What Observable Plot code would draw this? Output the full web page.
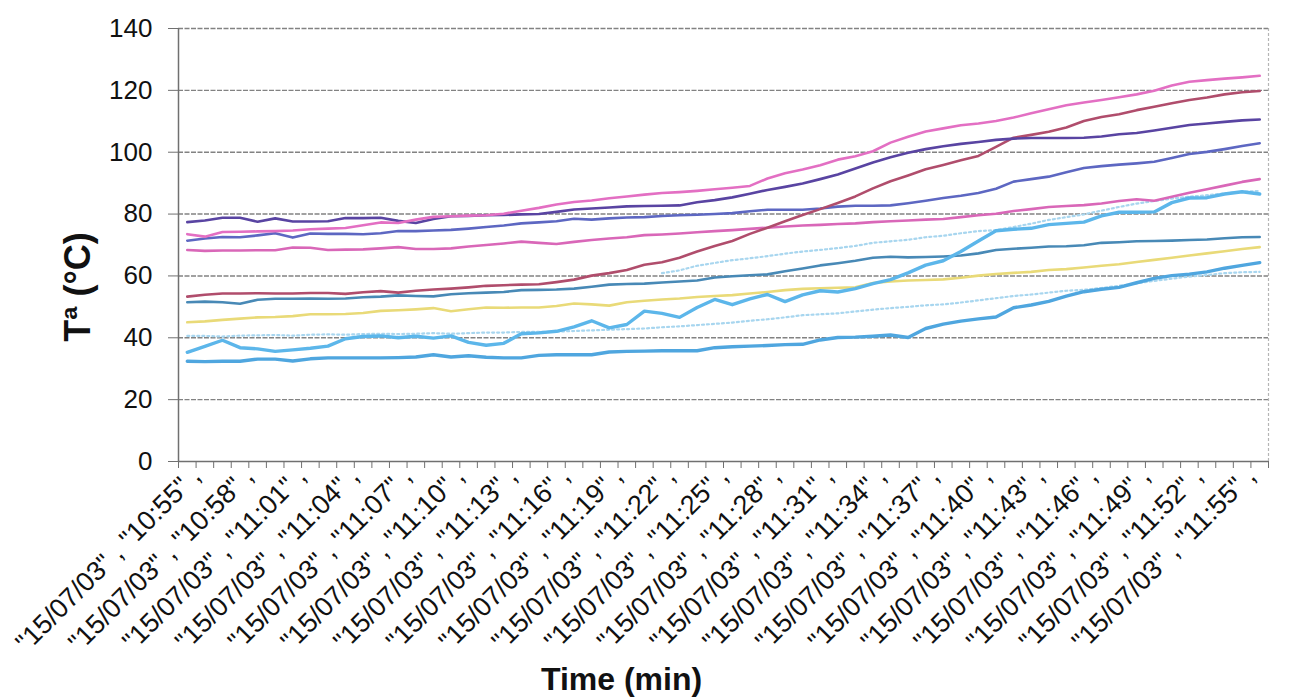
<!DOCTYPE html>
<html><head><meta charset="utf-8">
<script src="https://cdn.jsdelivr.net/npm/d3@7"></script>
<script src="https://cdn.jsdelivr.net/npm/@observablehq/plot@0.6"></script>
<style>
html,body{margin:0;padding:0;background:#fff}
#chart svg{display:block}
</style></head><body><div id="chart"></div>
<script>
// ---- data ----
const dateLabel = "15/07/03";
const times = ["10:55","10:56","10:57","10:58","10:59","11:00","11:01","11:02","11:03","11:04",
"11:05","11:06","11:07","11:08","11:09","11:10","11:11","11:12","11:13","11:14",
"11:15","11:16","11:17","11:18","11:19","11:20","11:21","11:22","11:23","11:24",
"11:25","11:26","11:27","11:28","11:29","11:30","11:31","11:32","11:33","11:34",
"11:35","11:36","11:37","11:38","11:39","11:40","11:41","11:42","11:43","11:44",
"11:45","11:46","11:47","11:48","11:49","11:50","11:51","11:52","11:53","11:54",
"11:55","11:56"];
const labelTimes = ["10:55","10:58","11:01","11:04","11:07","11:10","11:13","11:16","11:19","11:22",
"11:25","11:28","11:31","11:34","11:37","11:40","11:43","11:46","11:49","11:52","11:55"];
const yTicks = [0,20,40,60,80,100,120,140];

const pinkTop = [73.5,72.7,74.2,74.3,74.4,74.5,74.7,75.1,75.3,75.5,76.4,77.3,77.1,78.2,79.1,79.3,79.5,79.6,80.1,81.1,82.0,83.1,83.9,84.4,85.1,85.7,86.3,86.8,87.1,87.5,88.0,88.5,89.1,91.5,93.2,94.4,95.8,97.6,98.7,100.3,103.1,105.0,106.7,107.7,108.7,109.3,110.1,111.2,112.6,113.9,115.2,116.1,116.9,117.8,118.7,119.9,121.6,122.8,123.3,123.8,124.2,124.7];
const darkPurple = [77.4,77.9,78.8,78.8,77.5,78.6,77.6,77.6,77.7,78.7,78.7,78.8,77.8,77.1,78.4,79.3,79.4,79.6,79.7,79.9,80.0,80.7,81.5,81.8,82.1,82.5,82.6,82.7,82.8,83.8,84.5,85.4,86.6,87.8,88.8,89.9,91.3,92.8,94.7,96.7,98.4,99.8,101.0,101.9,102.7,103.3,104.0,104.4,104.6,104.6,104.6,104.7,105.1,105.8,106.2,107.0,107.9,108.8,109.3,109.8,110.3,110.6];
const bluePurple = [71.4,72.1,72.6,72.5,73.1,73.8,72.4,73.7,73.6,73.6,73.5,73.8,74.5,74.5,74.7,74.9,75.3,75.8,76.3,77.0,77.3,77.7,78.5,78.2,78.6,78.9,79.0,79.4,79.6,79.8,80.0,80.3,80.9,81.4,81.4,81.4,81.8,82.4,82.7,82.7,82.8,83.5,84.3,85.2,85.9,86.8,88.2,90.5,91.3,92.1,93.5,94.9,95.5,96.0,96.4,96.9,98.1,99.4,100.1,101.0,102.0,102.9];
const pinkLow = [68.4,68.1,68.2,68.2,68.3,68.3,69.2,69.1,68.4,68.5,68.6,68.9,69.3,68.7,68.7,68.9,69.5,70.0,70.5,71.1,70.7,70.3,71.0,71.6,72.1,72.5,73.2,73.4,73.7,74.1,74.5,74.8,75.2,75.6,76.0,76.3,76.5,76.8,77.0,77.4,77.7,77.9,78.2,78.4,79.0,79.6,80.1,81.0,81.6,82.3,82.6,82.9,83.4,84.2,84.8,84.3,85.6,86.9,88.0,89.2,90.4,91.3];
const maroon = [53.3,53.9,54.3,54.3,54.4,54.3,54.3,54.5,54.5,54.2,54.7,55.1,54.6,55.2,55.6,55.9,56.3,56.8,57.0,57.2,57.3,58.0,58.8,60.1,60.9,61.9,63.6,64.4,65.9,67.9,69.7,71.3,73.6,75.6,77.7,79.7,81.6,83.6,85.7,88.3,90.6,92.5,94.5,95.9,97.4,98.8,101.7,104.7,105.6,106.6,108.0,110.1,111.4,112.3,113.6,114.7,115.8,116.9,117.7,118.7,119.4,119.8];
const steel = [51.5,51.7,51.5,51.0,52.3,52.6,52.6,52.7,52.6,52.7,53.1,53.3,53.7,53.5,53.4,54.1,54.4,54.6,54.8,55.4,55.5,55.6,55.9,56.5,57.2,57.4,57.5,57.9,58.2,58.5,59.5,59.9,60.2,60.5,61.5,62.4,63.4,64.1,64.9,65.9,66.2,66.0,66.1,66.3,66.6,67.3,68.4,68.8,69.1,69.5,69.6,69.9,70.7,70.9,71.2,71.3,71.4,71.6,71.8,72.2,72.5,72.6];
const yellow = [45.0,45.3,45.8,46.2,46.6,46.7,47.0,47.6,47.6,47.7,48.0,48.7,48.9,49.2,49.6,48.6,49.2,49.8,49.7,49.8,49.8,50.3,51.1,50.8,50.4,51.5,52.0,52.4,52.7,53.2,53.5,53.8,54.3,54.8,55.4,55.8,56.0,56.2,56.3,57.7,58.2,58.5,58.7,58.9,59.4,60.1,60.6,61.0,61.3,61.9,62.2,62.7,63.3,63.8,64.5,65.2,65.9,66.6,67.3,68.0,68.7,69.3];
const cyan = [35.3,37.2,39.2,36.8,36.4,35.6,36.1,36.6,37.3,39.7,40.4,40.6,40.0,40.5,39.9,40.6,38.5,37.6,38.2,41.3,41.6,42.1,43.5,45.5,43.2,44.3,48.6,47.9,46.6,49.8,52.4,50.7,52.6,54.0,51.7,53.9,55.2,54.8,55.9,57.5,58.8,61.0,63.5,64.9,67.9,71.3,74.6,75.1,75.4,76.6,77.0,77.4,79.4,80.6,80.6,80.7,83.7,85.2,85.3,86.5,87.2,86.5];
const blueLow = [32.4,32.3,32.4,32.4,33.1,33.1,32.5,33.2,33.5,33.5,33.5,33.5,33.6,33.8,34.5,33.8,34.2,33.7,33.5,33.5,34.3,34.5,34.5,34.5,35.4,35.6,35.7,35.8,35.8,35.8,36.8,37.1,37.3,37.5,37.8,37.9,39.3,40.1,40.2,40.5,40.9,40.1,43.0,44.4,45.4,46.1,46.7,49.7,50.6,51.8,53.5,54.9,55.7,56.3,57.8,59.2,60.1,60.6,61.3,62.5,63.4,64.3];
const faintLow = [40.6,40.6,40.4,40.7,40.8,40.9,40.7,41.0,41.1,41.0,41.2,41.3,41.2,41.3,41.5,41.3,41.5,41.7,41.7,41.9,41.9,42.0,42.2,42.4,42.6,42.8,43.0,43.4,43.7,44.1,44.5,44.9,45.5,46.0,46.6,47.3,47.6,47.9,48.5,49.1,49.6,50.0,50.5,50.8,51.4,52.1,52.8,53.5,54.0,54.6,55.2,55.5,56.1,56.8,57.6,58.4,59.1,59.8,60.3,60.9,61.2,61.3];
const faintHighFrom = "11:22";
const faintHigh = [60.9,61.8,63.3,64.2,65.1,65.7,66.4,67.2,67.9,68.4,69.0,69.7,70.7,71.2,71.7,72.5,73.0,73.8,74.5,74.8,75.8,76.9,78.1,79.0,79.9,81.1,82.3,83.4,84.2,85.0,85.6,86.1,86.7,87.2,87.5];

// ---- build rows ----
function rows(values, start = 0) {
  return values.map((v, k) => ({i: start + k, v}));
}
const series = [
  {d: rows(faintLow), stroke: "#a8d6ef", w: 2.2, dash: "2,3"},
  {d: rows(faintHigh, times.indexOf(faintHighFrom)), stroke: "#a8d6ef", w: 2.2, dash: "2,3"},
  {d: rows(yellow), stroke: "#e9da78", w: 2.6},
  {d: rows(steel), stroke: "#4889b6", w: 2.6},
  {d: rows(blueLow), stroke: "#4fa6df", w: 3.4},
  {d: rows(cyan), stroke: "#5cb6ea", w: 3.4},
  {d: rows(pinkLow), stroke: "#d967b8", w: 2.6},
  {d: rows(bluePurple), stroke: "#5d67c2", w: 2.6},
  {d: rows(maroon), stroke: "#b04d6c", w: 2.6},
  {d: rows(darkPurple), stroke: "#5944a2", w: 2.6},
  {d: rows(pinkTop), stroke: "#e36fc3", w: 2.6}
];

const n = times.length;
const boundaries = d3.range(n + 1).map(k => k - 0.5);
const labelIdx = labelTimes.map(t => times.indexOf(t));
const font = "'Liberation Sans', Arial, Helvetica, sans-serif";

const chart = Plot.plot({
  width: 1295, height: 698,
  marginLeft: 178, marginRight: 27, marginTop: 28, marginBottom: 237,
  style: {fontFamily: font, background: "#fff", color: "#111", overflow: "visible"},
  x: {type: "linear", domain: [-0.5, n - 0.5]},
  y: {domain: [0, 140]},
  marks: [
    Plot.ruleY(yTicks.slice(1), {stroke: "#828282", strokeWidth: 1.4, strokeDasharray: "5,1.5"}),
    Plot.ruleX([n - 0.5], {stroke: "#b5b5b5", strokeWidth: 1.2, strokeDasharray: "3,2"}),
    ...series.map(s => Plot.line(s.d, {x: "i", y: "v", stroke: s.stroke, strokeWidth: s.w,
      strokeDasharray: s.dash, strokeLinejoin: "round", strokeLinecap: "round"})),
    Plot.ruleY([0], {stroke: "#707070", strokeWidth: 1.5}),
    Plot.ruleX([-0.5], {stroke: "#707070", strokeWidth: 1.5}),
    Plot.axisY({ticks: yTicks, tickSize: 10, tickPadding: 16, fontSize: 26, label: null, stroke: "#707070"}),
    Plot.axisX({ticks: boundaries, tickSize: 7, tickFormat: () => "", label: null, stroke: "#707070"}),
    Plot.axisX({ticks: labelIdx, tickSize: 0, tickPadding: 10, tickRotate: -45, fontSize: 27, label: null,
      tickFormat: i => `"${dateLabel}" , "${times[i]}" ,`, dx: 9}),
    Plot.text(["Time (min)"], {frameAnchor: "bottom-left", dx: 443, dy: 218, fontSize: 32, fontWeight: "bold",
      textAnchor: "middle", lineAnchor: "middle", fill: "#111"}),
    Plot.text(["Tª (°C)"], {frameAnchor: "left", dx: -100, dy: 42, rotate: -90, fontSize: 36, fontWeight: "bold",
      textAnchor: "middle", lineAnchor: "middle", fill: "#111"})
  ]
});
document.getElementById("chart").append(chart);
</script>
</body></html>
